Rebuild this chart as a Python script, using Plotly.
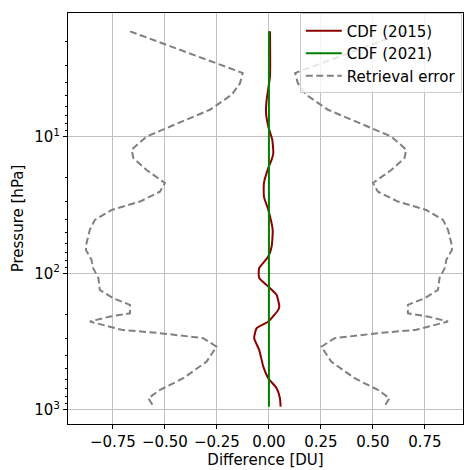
import numpy as np
import plotly.graph_objects as go

# Retrieval error profile (symmetric +/-)
err_p = [1.69, 3.41, 4.05, 4.92, 6.34, 8.41, 9.95, 12.4, 14.3, 17.5, 21.8, 25.2, 29.8, 34.3,
         40.6, 48.0, 60.1, 67.3, 79.6, 91.6, 108, 132, 152, 170, 196, 207, 225, 259, 274,
         298, 344, 443, 586, 714, 821, 935]
err_v = [0.668, 0.126, 0.139, 0.179, 0.284, 0.476, 0.588, 0.66, 0.652, 0.588, 0.50, 0.524,
         0.62, 0.756, 0.837, 0.861, 0.877, 0.88, 0.853, 0.845, 0.82, 0.813, 0.749, 0.668,
         0.668, 0.764, 0.861, 0.708, 0.524, 0.316, 0.252, 0.30, 0.412, 0.524, 0.58, 0.556]

# CDF (2015) difference
cdf15_p = [1.69, 3.61, 5.36, 6.70, 8.41, 10.5, 13.2, 14.7, 16.9, 21.8, 27.4, 34.3, 48.0, 63.5,
           75.3, 91.6, 108, 125, 144, 175, 185, 225, 252, 298, 363, 482, 586, 693, 821, 946]
cdf15_v = [0.005, 0.005, -0.011, -0.014, -0.003, 0.016, 0.021, 0.013, -0.003, -0.024, -0.024,
           -0.003, 0.018, 0.013, -0.003, -0.047, -0.047, -0.003, 0.037, 0.05, 0.045, -0.003,
           -0.059, -0.071, -0.047, -0.027, -0.003, 0.037, 0.053, 0.056]

# CDF (2021) difference
cdf21_p = [1.69, 946]
cdf21_v = [0.0, 0.0]

x_ticks = [-0.75, -0.5, -0.25, 0.0, 0.25, 0.5, 0.75]
x_labels = ["\u22120.75", "\u22120.50", "\u22120.25", "0.00", "0.25", "0.50", "0.75"]
y_ticks = [10, 100, 1000]
y_labels = ["10<sup>1</sup>", "10<sup>2</sup>", "10<sup>3</sup>"]

DASH = "7px,3.5px"

fig = go.Figure()
fig.add_trace(go.Scatter(x=cdf15_v, y=cdf15_p, mode="lines", name="CDF (2015)",
                         line=dict(color="#8b0000", width=2, shape="spline", smoothing=0.5)))
fig.add_trace(go.Scatter(x=cdf21_v, y=cdf21_p, mode="lines", name="CDF (2021)",
                         line=dict(color="#008000", width=2)))
fig.add_trace(go.Scatter(x=[-v for v in err_v], y=err_p, mode="lines", name="Retrieval error",
                         legendgroup="err",
                         line=dict(color="#808080", width=2, dash=DASH)))
fig.add_trace(go.Scatter(x=err_v, y=err_p, mode="lines", name="Retrieval error",
                         legendgroup="err", showlegend=False,
                         line=dict(color="#808080", width=2, dash=DASH)))

minor_vals = []
for d in [1, 10, 100, 1000]:
    for m in range(2, 10):
        v = d * m
        if 1.24 <= v <= 1267:
            minor_vals.append(v)

fig.update_layout(
    width=464, height=470,
    margin=dict(l=68, r=1, t=13, b=46),
    paper_bgcolor="white", plot_bgcolor="white",
    font=dict(family="DejaVu Sans", size=15, color="black"),
    showlegend=True,
    legend=dict(x=0.997, y=0.999, xanchor="right", yanchor="top",
                bgcolor="rgba(255,255,255,0.8)", bordercolor="#cccccc", borderwidth=1,
                font=dict(size=15), traceorder="normal", itemwidth=36),
    xaxis=dict(range=[-0.966, 0.933], tickvals=x_ticks, ticktext=x_labels,
               showgrid=True, gridcolor="#c0c0c0", gridwidth=1, zeroline=False,
               showline=True, linecolor="black", linewidth=1, mirror=True,
               ticks="outside", ticklen=4, tickcolor="black",
               title=dict(text="Difference [DU]", standoff=4, font=dict(size=15))),
    yaxis=dict(type="log", range=[np.log10(1267), np.log10(1.24)],
               tickvals=y_ticks, ticktext=y_labels,
               showgrid=True, gridcolor="#c0c0c0", gridwidth=1, zeroline=False,
               showline=True, linecolor="black", linewidth=1, mirror=True,
               ticks="outside", ticklen=4, tickcolor="black",
               minor=dict(tickvals=minor_vals, ticks="outside", ticklen=2,
                          tickcolor="black", showgrid=False),
               title=dict(text="Pressure [hPa]", standoff=6, font=dict(size=15))),
)

fig.write_html("out.html", config={"displayModeBar": False},
               post_script="document.body.style.margin='0';document.body.style.overflow='hidden';")
